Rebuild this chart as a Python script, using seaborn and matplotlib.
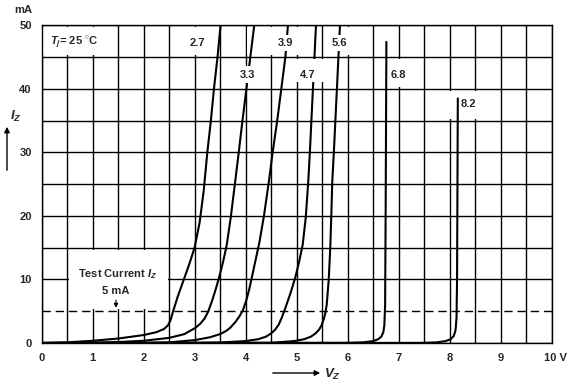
import numpy as np
import pandas as pd
import seaborn as sns
import matplotlib.pyplot as plt
from matplotlib.patches import Rectangle, FancyArrowPatch
from matplotlib.transforms import ScaledTranslation

# zener curves (V in volts, I in mA)
v_27 = [0, 0.5, 1.0, 1.5, 2.0, 2.25, 2.4, 2.48, 2.53, 2.58, 2.67, 2.79, 2.9, 3.0, 3.1, 3.18, 3.25, 3.32, 3.38, 3.45, 3.51]
i_27 = [0, 0.1, 0.35, 0.7, 1.25, 1.7, 2.2, 2.8, 3.6, 5, 7.3, 10, 12.5, 15, 19, 24, 30, 35, 40, 45, 50]
v_33 = [0, 1.0, 1.5, 2.0, 2.5, 2.8, 3.02, 3.12, 3.2, 3.27, 3.35, 3.42, 3.49, 3.56, 3.63, 3.71, 3.79, 3.86, 3.93, 4.01, 4.09, 4.17]
i_33 = [0, 0.05, 0.15, 0.35, 0.8, 1.4, 2.4, 3.1, 3.9, 5, 6.8, 8.6, 10.6, 12.8, 15.4, 19.8, 25, 29.6, 34.4, 39.6, 44.8, 50]
v_39 = [0, 2.0, 2.5, 3.0, 3.3, 3.5, 3.62, 3.7, 3.8, 3.88, 3.95, 4.01, 4.07, 4.13, 4.2, 4.27, 4.36, 4.46, 4.53, 4.62, 4.70, 4.78, 4.83]
i_39 = [0, 0.02, 0.1, 0.45, 0.9, 1.4, 1.9, 2.4, 3.3, 4.2, 5.2, 6.6, 8.4, 10.6, 13.2, 15.8, 20, 25.6, 30, 35, 40, 45, 50]
v_47 = [0, 3.0, 3.5, 4.0, 4.25, 4.4, 4.5, 4.58, 4.65, 4.71, 4.77, 4.84, 4.91, 4.98, 5.05, 5.12, 5.18, 5.23, 5.26, 5.29, 5.32, 5.35, 5.38]
i_47 = [0, 0.02, 0.08, 0.3, 0.6, 1.0, 1.5, 2.1, 2.9, 4.0, 5.3, 6.9, 8.6, 10.5, 12.8, 15.5, 19.8, 25.6, 30, 35, 40, 45, 50]
v_56 = [0, 4.5, 4.95, 5.15, 5.28, 5.37, 5.44, 5.49, 5.53, 5.56, 5.59, 5.63, 5.66, 5.68, 5.70, 5.73, 5.76, 5.79, 5.82, 5.85]
i_56 = [0, 0.03, 0.3, 0.6, 1.0, 1.5, 2.1, 2.8, 3.7, 4.6, 6, 10, 15, 20, 25.6, 30, 35, 40, 45, 50]
v_68 = [0, 6.0, 6.3, 6.5, 6.6, 6.66, 6.7, 6.72, 6.735, 6.745, 6.76]
i_68 = [0, 0.02, 0.1, 0.3, 0.6, 1.0, 1.7, 2.8, 6, 20, 47.4]
v_82 = [0, 7.4, 7.75, 7.92, 8.02, 8.08, 8.115, 8.135, 8.145, 8.16]
i_82 = [0, 0.02, 0.1, 0.3, 0.6, 1.1, 2.0, 4, 10, 38.5]

curve_names = ['2.7', '3.3', '3.9', '4.7', '5.6', '6.8', '8.2']
curve_v = [v_27, v_33, v_39, v_47, v_56, v_68, v_82]
curve_i = [i_27, i_33, i_39, i_47, i_56, i_68, i_82]

x_ticks = [0, 1, 2, 3, 4, 5, 6, 7, 8, 9, 10]
x_labels = ['0', '1', '2', '3', '4', '5', '6', '7', '8', '9', '10 V']
y_ticks = [0, 10, 20, 30, 40, 50]
test_current = 5

rows = []
for name, vs, cs in zip(curve_names, curve_v, curve_i):
    for v, c in zip(vs, cs):
        rows.append({'zener': name, 'V': v, 'I': c})
df = pd.DataFrame(rows)

sns.set_style('white')
plt.rcParams['font.family'] = ['Liberation Sans', 'DejaVu Sans']
plt.rcParams['font.weight'] = 'bold'
plt.rcParams['mathtext.fontset'] = 'custom'
plt.rcParams['mathtext.it'] = 'Liberation Sans:italic:bold'
plt.rcParams['mathtext.rm'] = 'Liberation Sans:bold'

W, H = 574, 388
fig = plt.figure(figsize=(W / 100, H / 100), dpi=100)
ax = fig.add_axes([41.5 / W, 1 - 343 / H, (551.7 - 41.5) / W, (343 - 25.3) / H])

ax.set_xlim(0, 10)
ax.set_ylim(0, 50)
ax.set_xticks(x_ticks)
ax.set_xticklabels(x_labels)
ax.set_xticks(np.arange(0.5, 10, 1.0), minor=True)
ax.set_yticks(y_ticks)
ax.set_yticks([15, 25, 35, 45], minor=True)
ax.set_axisbelow(True)
ax.grid(which='both', color='black', lw=1.0)
ax.tick_params(which='both', length=0, labelsize=8, pad=7)
for s in ax.spines.values():
    s.set_color('black')
    s.set_linewidth(1.0)
lab10 = ax.get_xticklabels()[-1]
lab10.set_transform(lab10.get_transform() + ScaledTranslation(4 / 100, 0, fig.dpi_scale_trans))

# blank cells behind labels (grid removed)
cells = [(0, 1.5, 45, 50), (2.5, 3.5, 45, 50), (4.0, 5.5, 45, 50), (5.5, 6.5, 45, 50),
         (6.5, 7.5, 40, 45), (7.5, 9.0, 35, 40), (0.5, 2.5, 5, 15)]
for x0, x1, y0, y1 in cells:
    ax.add_patch(Rectangle((x0 + 0.03, y0 + 0.3), x1 - x0 - 0.06, y1 - y0 - 0.6,
                           facecolor='white', edgecolor='none', zorder=1))

ax.axhline(test_current, color='black', lw=1.0, ls=(0, (6, 3.5)), zorder=1.5)

for name in curve_names:
    sns.lineplot(data=df[df['zener'] == name], x='V', y='I', sort=False, estimator=None,
                 color='black', lw=1.5, ax=ax, zorder=2)
ax.set_xlabel('')
ax.set_ylabel('')

# white boxes where labels cut the curves
boxes = [(4.62, 4.94, 46.0, 48.5), (5.68, 6.0, 46.0, 48.5), (3.87, 4.2, 40.9, 43.6), (4.96, 5.54, 41.0, 44.7)]
for x0, x1, y0, y1 in boxes:
    ax.add_patch(Rectangle((x0, y0), x1 - x0, y1 - y0, facecolor='white', edgecolor='none', zorder=3))

label_pos = {'2.7': (3.05, 47.2), '3.3': (4.03, 42.2), '3.9': (4.78, 47.2), '4.7': (5.22, 42.2),
             '5.6': (5.84, 47.2), '6.8': (7.0, 42.2), '8.2': (8.37, 37.6)}
for name, (x, y) in label_pos.items():
    ax.text(x, y, name, ha='center', va='center', fontsize=8, fontweight='bold', zorder=4)

ax.text(0.16, 47.2, r'$T_j$= 25 $^{\circ}$C', ha='left', va='center', fontsize=8, zorder=4)
ax.text(1.5, 10.8, r'Test Current $I_Z$', ha='center', va='center', fontsize=8, zorder=4)
ax.text(1.46, 8.2, '5 mA', ha='center', va='center', fontsize=8, zorder=4)
ax.annotate('', xy=(1.46, 5.1), xytext=(1.46, 7.2),
            arrowprops=dict(arrowstyle='-|>', color='black', lw=0.8, mutation_scale=6), zorder=4)

# axis captions with arrows
fig.text(23 / W, 1 - 10 / H, 'mA', ha='center', va='center', fontsize=8)
fig.text(16 / W, 1 - 116 / H, r'$I_Z$', ha='center', va='center', fontsize=9.5)
fig.patches.append(FancyArrowPatch((7 / W, 1 - 173 / H), (7 / W, 1 - 124 / H),
                   transform=fig.transFigure, arrowstyle='-|>', mutation_scale=8, color='black', lw=1.0))
fig.patches.append(FancyArrowPatch((270 / W, 1 - 373 / H), (323 / W, 1 - 373 / H),
                   transform=fig.transFigure, arrowstyle='-|>', mutation_scale=8, color='black', lw=1.0))
fig.text(324 / W, 1 - 374 / H, r'$V_Z$', ha='left', va='center', fontsize=9.5)

fig.savefig('out.png', dpi=100)
